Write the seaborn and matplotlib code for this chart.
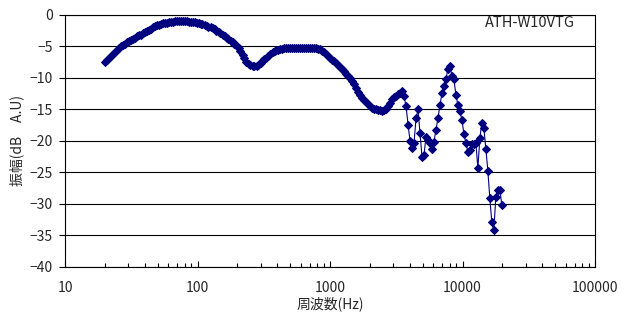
import numpy as np
import pandas as pd
import seaborn as sns
import matplotlib.pyplot as plt
from matplotlib.ticker import FixedLocator, FixedFormatter, LogLocator, NullFormatter

# frequency grid (1/20 octave, 20 Hz - 20 kHz)
freq = [
    20.0, 20.7, 21.4, 22.2, 23.0, 23.8, 24.6, 25.5, 26.4, 27.3, 28.3, 29.3, 30.3, 31.4, 32.5, 33.6, 34.8, 36.0, 37.3, 38.6,
    40.0, 41.4, 42.9, 44.4, 45.9, 47.6, 49.2, 51.0, 52.8, 54.6, 56.6, 58.6, 60.6, 62.8, 65.0, 67.3, 69.6, 72.1, 74.6, 77.3,
    80.0, 82.8, 85.7, 88.8, 91.9, 95.1, 98.5, 102, 106, 109, 113, 117, 121, 126, 130, 135, 139, 144, 149, 155,
    160, 166, 171, 178, 184, 190, 197, 204, 211, 219, 226, 234, 243, 251, 260, 269, 279, 288, 299, 309,
    320, 331, 343, 355, 368, 381, 394, 408, 422, 437, 453, 469, 485, 502, 520, 538, 557, 577, 597, 618,
    640, 663, 686, 710, 735, 761, 788, 816, 844, 874, 905, 937, 970, 1004, 1040, 1076, 1114, 1154, 1194, 1236,
    1280, 1325, 1372, 1420, 1470, 1522, 1576, 1631, 1689, 1749, 1810, 1874, 1940, 2009, 2079, 2153, 2229, 2307, 2389, 2473,
    2560, 2650, 2744, 2841, 2941, 3044, 3152, 3263, 3378, 3497, 3620, 3748, 3880, 4017, 4159, 4305, 4457, 4614, 4777, 4946,
    5120, 5301, 5488, 5681, 5881, 6089, 6303, 6526, 6756, 6994, 7241, 7496, 7760, 8034, 8317, 8610, 8914, 9229, 9554, 9891,
    10240, 10601, 10975, 11362, 11763, 12177, 12607, 13051, 13511, 13988, 14482, 14992, 15521, 16068, 16635, 17221, 17829, 18457, 19108, 19782,
]

amp = [
    -7.5, -7.2, -6.9, -6.5, -6.15, -5.85, -5.55, -5.25, -5.0, -4.75, -4.55, -4.35, -4.1, -3.95, -3.75, -3.6, -3.4, -3.25, -3.1, -2.9,
    -2.7, -2.5, -2.35, -2.15, -1.95, -1.8, -1.65, -1.55, -1.45, -1.35, -1.25, -1.2, -1.12, -1.08, -1.05, -1.02, -1.0, -1.0, -1.0, -1.0,
    -1.0, -1.0, -1.05, -1.08, -1.12, -1.15, -1.22, -1.3, -1.4, -1.5, -1.6, -1.7, -1.85, -1.95, -2.1, -2.3, -2.5, -2.7, -2.9, -3.1,
    -3.35, -3.6, -3.85, -4.1, -4.35, -4.6, -4.9, -5.25, -5.65, -6.3, -6.9, -7.4, -7.8, -8.0, -8.1, -8.1, -8.05, -7.9, -7.65, -7.35,
    -7.05, -6.75, -6.45, -6.15, -5.95, -5.75, -5.6, -5.5, -5.4, -5.33, -5.28, -5.25, -5.22, -5.2, -5.2, -5.2, -5.2, -5.2, -5.2, -5.2,
    -5.2, -5.2, -5.22, -5.25, -5.25, -5.28, -5.3, -5.35, -5.45, -5.7, -5.95, -6.2, -6.5, -6.85, -7.1, -7.3, -7.55, -7.9, -8.25, -8.6,
    -8.95, -9.3, -9.65, -10.0, -10.5, -11.0, -11.6, -12.2, -12.65, -13.1, -13.45, -13.8, -14.15, -14.45, -14.7, -14.85, -14.95, -15.05, -15.15, -15.2,
    -15.1, -14.9, -14.5, -13.9, -13.4, -13.0, -12.8, -12.6, -12.4, -12.1, -12.9, -14.5, -17.4, -20.0, -21.1, -20.3, -16.4, -15.0, -18.8, -22.5,
    -22.2, -19.3, -19.8, -20.3, -21.2, -20.1, -18.2, -16.4, -14.3, -12.4, -11.3, -10.2, -8.5, -8.1, -9.7, -10.2, -12.7, -14.3, -15.3, -16.6,
    -18.9, -20.3, -21.7, -21.5, -20.5, -20.5, -20.3, -24.3, -19.6, -17.1, -17.9, -21.2, -24.7, -29.1, -32.9, -34.2, -28.9, -27.7, -27.7, -30.1,
]

x_ticks = [10, 100, 1000, 10000, 100000]
x_labels = ['10', '100', '1000', '10000', '100000']
y_ticks = [0, -5, -10, -15, -20, -25, -30, -35, -40]

sns.set_style('white')
plt.rcParams['font.family'] = ['Noto Sans CJK JP', 'DejaVu Sans']

df = pd.DataFrame({'freq': freq, 'amp': amp})

fig = plt.figure(figsize=(6.21, 3.23), dpi=100)
ax = fig.add_axes([0.1047, 0.1734, 0.8535, 0.7802])

navy = '#00007f'
sns.lineplot(data=df, x='freq', y='amp', ax=ax, estimator=None, sort=False,
             color=navy, linewidth=0.8, marker='D', markersize=4.0,
             markeredgecolor=navy, markerfacecolor=navy)

ax.set_xscale('log')
ax.set_xlim(10, 100000)
ax.set_ylim(-40, 0)

ax.xaxis.set_major_locator(FixedLocator(x_ticks))
ax.xaxis.set_major_formatter(FixedFormatter(x_labels))
ax.xaxis.set_minor_locator(LogLocator(base=10, subs=np.arange(2, 10)))
ax.xaxis.set_minor_formatter(NullFormatter())
ax.set_yticks(y_ticks)

for y in y_ticks:
    ax.axhline(y, color='black', linewidth=0.8, zorder=0)

for s in ax.spines.values():
    s.set_color('black')
    s.set_linewidth(0.8)

ax.tick_params(axis='x', which='both', direction='in', bottom=True, top=False,
               color='black', width=0.8, labelsize=10, pad=10)
ax.tick_params(axis='x', which='major', length=4)
ax.tick_params(axis='x', which='minor', length=3)
ax.tick_params(axis='y', direction='out', left=True, length=4, width=0.8,
               color='black', labelsize=10, pad=5)

ax.set_xlabel('周波数(Hz)', fontsize=10, labelpad=1)
ax.set_ylabel('振幅(dB\u3000A.U)', fontsize=10, labelpad=4)

ax.text(0.962, 0.968, 'ATH-W10VTG', transform=ax.transAxes,
        ha='right', va='center', fontsize=10.5)

fig.savefig('out.png', dpi=100, facecolor='white')
